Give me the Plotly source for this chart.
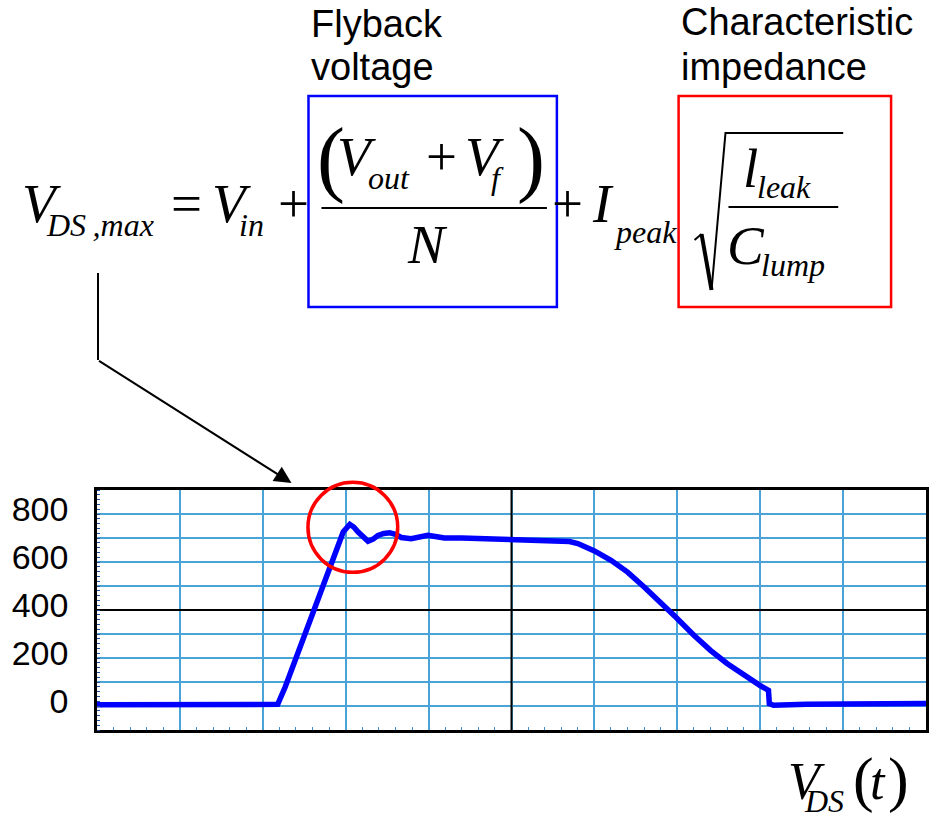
import plotly.graph_objects as go

# ---- waveform data: drain-source voltage over one switching period ----
t_div = [0.0, 2.18, 2.27, 2.39, 2.51, 2.63, 2.71, 2.81, 2.91, 2.97, 3.05, 3.10,
         3.15, 3.21, 3.27, 3.33, 3.39, 3.46, 3.53, 3.60, 3.67, 3.79, 3.90, 3.99,
         4.10, 4.19, 4.40, 4.63, 4.99, 5.30, 5.56, 5.70, 5.80, 5.90, 6.00, 6.20,
         6.40, 6.60, 6.80, 6.98, 7.20, 7.40, 7.60, 7.80, 7.92, 8.00, 8.10, 8.11,
         8.16, 8.56, 10.0]
vds = [5, 7, 79, 190, 302, 412, 496, 579, 677, 725, 757, 745,
       725, 703, 686, 695, 711, 719, 722, 715, 702, 697, 703, 711,
       705, 700, 700, 697, 695, 693, 690, 685, 677, 663, 646, 607,
       558, 496, 433, 371, 295, 232, 177, 128, 100, 85, 65, 10,
       3, 7, 10]

y_grid = [-100, 0, 100, 200, 300, 400, 500, 600, 700, 800, 900]
y_text = ["", "0", "", "200", "", "400", "", "600", "", "800", ""]
x_range = [0, 10]
y_range = [-100, 900]

# ---- page geometry (pixels) ----
W, H = 942, 814
L, R, T, B = 95, 16, 490, 84
PW, PH = W - L - R, H - T - B

SERIF = "Liberation Serif, Times New Roman, serif"
SANS = "Liberation Sans, Arial, sans-serif"


def xp(px):
    return (px - L) / PW


def yp(py):
    return (H - B - py) / PH


def data_to_px(x, y):
    px = L + (x - x_range[0]) / (x_range[1] - x_range[0]) * PW
    py = H - B - (y - y_range[0]) / (y_range[1] - y_range[0]) * PH
    return px, py


annotations = []
shapes = []


def label(s, left, base, size, italic=True, fam=SERIF):
    k = 0.3375 if fam == SERIF else 0.3465
    annotations.append(dict(
        text=s, xref="paper", yref="paper", x=xp(left - 3), y=yp(base - k * size),
        xanchor="left", yanchor="middle", showarrow=False, borderpad=0,
        font=dict(family=fam, size=size, color="black",
                  style="italic" if italic else "normal")))


def seg(x0, y0, x1, y1, color="black", width=2):
    shapes.append(dict(type="line", xref="paper", yref="paper",
                       x0=xp(x0), y0=yp(y0), x1=xp(x1), y1=yp(y1),
                       line=dict(color=color, width=width), layer="above"))


def box(x0, y0, x1, y1, color):
    shapes.append(dict(type="rect", xref="paper", yref="paper",
                       x0=xp(x0), y0=yp(y0), x1=xp(x1), y1=yp(y1),
                       line=dict(color=color, width=2.5), layer="above"))


# ---- headings ----
label("Flyback", 312, 37, 38, italic=False, fam=SANS)
label("voltage", 312, 80, 38, italic=False, fam=SANS)
label("Characteristic", 682, 35, 38, italic=False, fam=SANS)
label("impedance", 682, 80, 38, italic=False, fam=SANS)

# ---- equation: V_DS,max = V_in + (V_out + V_f)/N + I_peak sqrt(l_leak / C_lump) ----
M, S = 55, 32
label("V", 22, 222, M)
label("DS\u2009,max", 46, 236, S)
label("=", 171, 222, M, italic=False)
label("V", 212, 222, M)
label("in", 239, 236, S)
label("+", 278, 222, M, italic=False)

label("(", 318, 186, 84, italic=False)
label("V", 338, 175, M)
label("out", 369, 189, S)
label("+", 427, 175, M, italic=False)
label("V", 466, 175, M)
label("f", 492, 189, S)
label(")", 518, 186, 84, italic=False)
seg(320, 208, 546, 208, width=2)
label("N", 408, 263, M)

label("+", 553, 222, M, italic=False)
label("I", 593, 222, M)
label("peak", 615, 243, S)

shapes.append(dict(type="path", xref="paper", yref="paper",
                   path="M {} {} L {} {}".format(xp(694), yp(240), xp(701), yp(234)),
                   line=dict(color="black", width=2), layer="above"))
shapes.append(dict(type="path", xref="paper", yref="paper",
                   path="M {} {} L {} {}".format(xp(701), yp(234), xp(711), yp(290)),
                   line=dict(color="black", width=4), layer="above"))
shapes.append(dict(type="path", xref="paper", yref="paper",
                   path="M {} {} L {} {} L {} {}".format(xp(711), yp(290), xp(725), yp(133),
                                                       xp(843), yp(133)),
                   line=dict(color="black", width=2), layer="above"))
label("l", 745, 187, M)
label("leak", 759, 198, S)
seg(728, 207, 838, 207, width=2)
label("C", 729, 264, M)
label("lump", 763, 276, S)

box(307, 96, 556, 307, "#0000FF")
box(678, 96, 891, 307, "#FF0000")

# ---- axis caption V_DS(t) ----
label("V", 790, 799, 52)
label("DS", 806, 812, S)
label("(", 855, 800, 62, italic=False)
label("t", 872, 799, 52)
label(")", 890, 800, 62, italic=False)

# ---- pointer from the equation to the waveform ----
seg(96, 273, 96, 360, width=2)
annotations.append(dict(
    text="", xref="paper", yref="paper", x=xp(290), y=yp(483),
    ax=96 - 290, ay=360 - 483, axref="pixel", ayref="pixel",
    showarrow=True, arrowhead=2, arrowsize=1.7, arrowwidth=2, arrowcolor="black"))

# ---- red circle highlighting the ringing peak ----
i_pk = max(range(len(vds)), key=lambda i: vds[i])
cx, cy = data_to_px(t_div[i_pk], vds[i_pk])
cx, cy = cx + 3, cy + 3
r = 45
shapes.append(dict(type="circle", xref="paper", yref="paper",
                   x0=xp(cx - r), x1=xp(cx + r), y0=yp(cy + r), y1=yp(cy - r),
                   line=dict(color="#FF0000", width=3.5), layer="above"))

x_mid = (x_range[0] + x_range[1]) / 2
y_mid = (y_range[0] + y_range[1]) / 2

fig = go.Figure()
# centre cross-hair of the scope graticule
fig.add_trace(go.Scatter(x=[x_mid, x_mid], y=y_range, mode="lines",
                         line=dict(color="black", width=2), hoverinfo="skip"))
fig.add_trace(go.Scatter(x=x_range, y=[y_mid, y_mid], mode="lines",
                         line=dict(color="black", width=2), hoverinfo="skip"))
# drain-source voltage waveform
fig.add_trace(go.Scatter(x=t_div, y=vds, mode="lines",
                         line=dict(color="#0000FF", width=5.5), hoverinfo="skip"))

grid_col = "#4AA3D6"
fig.update_layout(
    width=W, height=H,
    margin=dict(l=L, r=R, t=T, b=B, pad=0),
    paper_bgcolor="white", plot_bgcolor="white",
    showlegend=False,
    annotations=annotations, shapes=shapes,
    xaxis=dict(range=x_range, dtick=1, tick0=0, showticklabels=False, ticks="",
               showgrid=True, gridcolor=grid_col, gridwidth=1.5, zeroline=False,
               showline=True, linecolor="black", linewidth=2.5, mirror=True,
               minor=dict(dtick=0.2, tick0=0, ticks="inside", ticklen=3,
                          tickcolor="#3A8FD0", tickwidth=1, showgrid=False),
               fixedrange=True),
    yaxis=dict(range=y_range, tickmode="array", tickvals=y_grid, ticktext=y_text,
               ticks="", ticklabelstandoff=19, ticklabelshift=-5,
               tickfont=dict(family=SANS, size=34, color="black"),
               showgrid=True, gridcolor=grid_col, gridwidth=1.5, zeroline=False,
               showline=True, linecolor="black", linewidth=2.5, mirror=True,
               minor=dict(dtick=20, tick0=0, ticks="inside", ticklen=3,
                          tickcolor="#2050A0", tickwidth=1, showgrid=False),
               fixedrange=True),
)

fig.write_html("out.html")
